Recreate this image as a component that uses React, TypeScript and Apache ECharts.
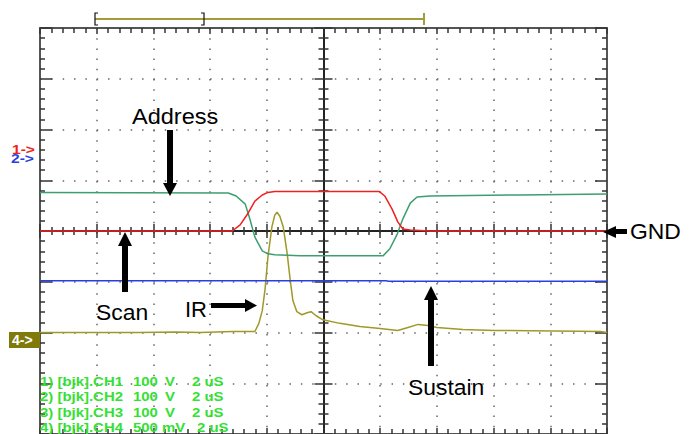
import React, { useEffect, useRef } from "react";
import * as echarts from "echarts";

// time axis in microseconds (2 uS / div), vertical in divisions
const addressT = [-10, -3.36, -3.08, -2.76, -2.6, -2.42, -2.16, -1.96, -1.72, -0.82, 2.1, 2.34, 2.6, 2.8, 3.06, 3.3, 3.76, 6.94, 10];
const addressV = [0.76, 0.75, 0.69, 0.53, 0.24, -0.12, -0.39, -0.45, -0.47, -0.49, -0.49, -0.35, -0.06, 0.24, 0.55, 0.67, 0.69, 0.71, 0.73];

const scanT = [-10, -3.22, -2.94, -2.66, -2.42, -2.16, -1.96, -1.72, 1.96, 2.16, 2.42, 2.62, 2.8, 3.06, 3.76, 10];
const scanV = [0, 0, 0.12, 0.35, 0.59, 0.71, 0.76, 0.78, 0.78, 0.69, 0.43, 0.18, 0.04, 0.02, 0, 0];

const sustainT = [-10, 2.2, 2.3, 10];
const sustainV = [-0.98, -0.98, -0.99, -0.99];

const irT = [-10, -6.5, -5.2, -4.36, -3.2, -2.42, -2.28, -2.16, -2.06, -1.96, -1.82, -1.72, -1.64, -1.54, -1.42, -1.28, -1.18, -1.08, -0.94, -0.76, -0.58, -0.44, -0.26, -0.02, 0.58, 1.28, 2.0, 2.62, 2.98, 3.34, 3.68, 4.0, 4.92, 6.04, 9.76, 10];
const irV = [-2.0, -2.0, -1.99, -2.0, -1.98, -1.98, -1.82, -1.57, -1.14, -0.51, 0.08, 0.31, 0.37, 0.29, 0.08, -0.45, -0.94, -1.37, -1.59, -1.65, -1.61, -1.59, -1.67, -1.75, -1.82, -1.88, -1.92, -1.96, -1.9, -1.84, -1.86, -1.9, -1.94, -1.96, -1.98, -2.0];

const legendLines = [
  ["1) [bjk].CH1", "100", "V", "2 uS"],
  ["2) [bjk].CH2", "100", "V", "2 uS"],
  ["3) [bjk].CH3", "100", "V", "2 uS"],
  ["4) [bjk].CH4", "500 mV", "", "2 uS"],
];

const zip = (t: number[], v: number[]) => t.map((x, i) => [x, v[i]]);

const FONT = '"Liberation Sans", Arial, sans-serif';

export default function App() {
  const ref = useRef<HTMLDivElement>(null);
  useEffect(() => {
    if (!ref.current) return;
    const chart = echarts.init(ref.current, undefined, { renderer: "svg" });

    const borderLine = { color: "#555", width: 2 };
    const tickStyle = { color: "#333", width: 1.5 };
    const centerLine = { color: "#222", width: 2 };

    const baseX = { type: "value", min: -10, max: 10, interval: 2, axisLabel: { show: false }, splitLine: { show: false } };
    const baseY = { type: "value", min: -4, max: 4, interval: 1, axisLabel: { show: false }, splitLine: { show: false } };

    const xAxis = [
      {
        ...baseX, position: "bottom",
        axisLine: { onZero: false, lineStyle: borderLine },
        axisTick: { inside: true, length: 6, lineStyle: tickStyle },
        minorTick: { show: true, splitNumber: 5, length: 5, lineStyle: tickStyle },
        splitLine: { show: true, lineStyle: { color: "#666", width: 1.5, type: [1.5, 8.7] } },
      },
      {
        ...baseX, position: "top",
        axisLine: { onZero: false, lineStyle: borderLine },
        axisTick: { inside: true, length: 6, lineStyle: tickStyle },
        minorTick: { show: true, splitNumber: 5, length: 5, lineStyle: tickStyle },
      },
      {
        ...baseX, position: "bottom",
        axisLine: { onZero: true, onZeroAxisIndex: 0, lineStyle: centerLine },
        axisTick: { inside: true, length: 7, lineStyle: tickStyle },
        minorTick: { show: true, splitNumber: 5, length: 4, lineStyle: tickStyle },
      },
      {
        ...baseX, position: "bottom",
        axisLine: { onZero: true, onZeroAxisIndex: 0, lineStyle: centerLine },
        axisTick: { inside: false, length: 7, lineStyle: tickStyle },
        minorTick: { show: true, splitNumber: 5, length: 4, lineStyle: tickStyle },
      },
    ];
    const yAxis = [
      {
        ...baseY, position: "left",
        axisLine: { onZero: false, lineStyle: borderLine },
        axisTick: { inside: true, length: 12, lineStyle: tickStyle },
        minorTick: { show: true, splitNumber: 5, length: 5, lineStyle: tickStyle },
        splitLine: { show: true, lineStyle: { color: "#666", width: 1.5, type: [1.5, 9.84] } },
      },
      {
        ...baseY, position: "right",
        axisLine: { onZero: false, lineStyle: borderLine },
        axisTick: { inside: true, length: 12, lineStyle: tickStyle },
        minorTick: { show: true, splitNumber: 5, length: 5, lineStyle: tickStyle },
      },
      {
        ...baseY, position: "left",
        axisLine: { onZero: true, onZeroAxisIndex: 0, lineStyle: centerLine },
        axisTick: { inside: true, length: 9, lineStyle: tickStyle },
        minorTick: { show: true, splitNumber: 5, length: 5, lineStyle: tickStyle },
      },
      {
        ...baseY, position: "left",
        axisLine: { onZero: true, onZeroAxisIndex: 0, lineStyle: centerLine },
        axisTick: { inside: false, length: 9, lineStyle: tickStyle },
        minorTick: { show: true, splitNumber: 5, length: 5, lineStyle: tickStyle },
      },
    ];

    const mkSeries = (name: string, t: number[], v: number[], color: string) => ({
      name, type: "line", xAxisIndex: 0, yAxisIndex: 0, data: zip(t, v),
      showSymbol: false, symbol: "none", smooth: false,
      lineStyle: { color, width: 1.5 }, z: 3,
    });

    const label = (text: string, x: number, y: number, sx = 1.04) => ({
      type: "text", x, y, z: 10, scaleX: sx,
      style: { text, fill: "#000", font: `22px ${FONT}`, verticalAlign: "middle", align: "left" },
    });
    const shaft = (x: number, y: number, w: number, h: number) => ({
      type: "rect", z: 10, shape: { x, y, width: w, height: h }, style: { fill: "#000" },
    });
    const head = (pts: number[][]) => ({ type: "polygon", z: 10, shape: { points: pts }, style: { fill: "#000" } });

    const legendGraphics: any[] = [];
    const legendX = [
      [40, 133, 165, 192],
      [40, 133, 165, 192],
      [40, 133, 165, 192],
      [40, 133, 0, 197],
    ];
    const legendY = [381, 396.5, 412, 427.5];
    legendLines.forEach((line, i) => {
      line.forEach((tok, j) => {
        if (!tok) return;
        legendGraphics.push({
          type: "text", x: legendX[i][j], y: legendY[i], z: 10, scaleX: 1.15,
          style: { text: tok, fill: "#35e035", font: `bold 13px ${FONT}`, lineHeight: 13, verticalAlign: "middle", align: "left" },
        });
      });
    });

    const olive = "#a49c3c";

    chart.setOption({
      animation: false,
      backgroundColor: "#fff",
      grid: { left: 40, top: 28, width: 567, height: 408, containLabel: false },
      xAxis, yAxis,
      series: [
        mkSeries("CH4 IR", irT, irV, "#9e9a28"),
        mkSeries("CH3 Sustain", sustainT, sustainV, "#2a3ee0"),
        mkSeries("CH2 Address", addressT, addressV, "#3d9e70"),
        mkSeries("CH1 Scan", scanT, scanV, "#f02020"),
      ],
      graphic: [
        // top bracket
        { type: "line", z: 10, shape: { x1: 95, y1: 19, x2: 424, y2: 19 }, style: { stroke: olive, lineWidth: 2 } },
        { type: "line", z: 10, shape: { x1: 424, y1: 13, x2: 424, y2: 25 }, style: { stroke: olive, lineWidth: 2 } },
        { type: "polyline", z: 11, shape: { points: [[98, 13], [95, 13], [95, 25], [98, 25]] }, style: { stroke: "#111", lineWidth: 1.2, fill: "none" } },
        { type: "polyline", z: 11, shape: { points: [[201, 13], [204, 13], [204, 25], [201, 25]] }, style: { stroke: "#111", lineWidth: 1.2, fill: "none" } },
        // channel markers (1 above, 2 and 3 stacked on the same offset)
        {
          type: "text", x: 12, y: 149.5, z: 11, scaleX: 1.3,
          style: { text: "1->", fill: "#f02020", font: `bold 12px ${FONT}`, lineHeight: 9, verticalAlign: "middle" },
        },
        {
          type: "text", x: 11, y: 159, z: 11, scaleX: 1.3,
          style: {
            text: "2->", fill: "#2a3ee0", font: `bold 12px ${FONT}`, lineHeight: 9, verticalAlign: "middle",
            textShadowColor: "#3d9e70", textShadowOffsetX: 1, textShadowOffsetY: 0, textShadowBlur: 0,
          },
        },
        { type: "rect", z: 10, shape: { x: 9, y: 332, width: 31, height: 16 }, style: { fill: "#7f7a0a" } },
        { type: "text", x: 12, y: 340, z: 11, style: { text: "4->", fill: "#fff", font: `bold 14px ${FONT}`, verticalAlign: "middle" } },
        // annotations
        label("Address", 132, 116, 1.07),
        shaft(167, 130, 6, 54), head([[163, 183], [177, 183], [170, 196]]),
        label("Scan", 96, 313),
        shaft(122, 245, 6, 47), head([[118, 246], [132, 246], [125, 232]]),
        label("IR", 185, 309, 1),
        shaft(211, 303, 35, 5), head([[245, 299], [245, 312], [257, 305.5]]),
        label("Sustain", 408, 388),
        shaft(428, 299, 6, 67), head([[424, 300], [438, 300], [431, 286]]),
        label("GND", 630, 232),
        shaft(614, 229, 13, 5), head([[616, 226], [616, 238], [603, 232]]),
        ...legendGraphics,
      ],
    });
    return () => chart.dispose();
  }, []);
  return <div ref={ref} style={{ position: "absolute", left: 0, top: 0, width: 693, height: 434 }} />;
}
